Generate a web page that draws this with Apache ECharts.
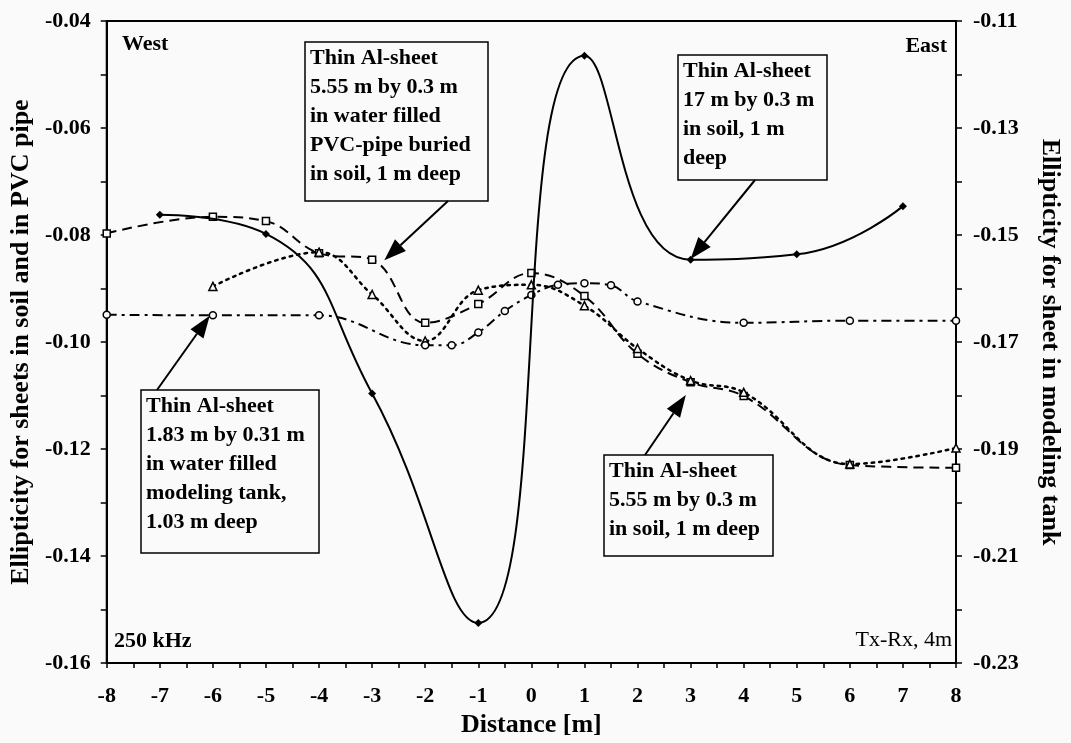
<!DOCTYPE html>
<html lang="en">
<head>
<meta charset="UTF-8">
<title>Ellipticity profiles, 250 kHz</title>
<style>
html, body { margin: 0; padding: 0; background: #fafafa; }
#container { width: 1071px; height: 743px; }
</style>
</head>
<body>
<div id="container"></div>
<script src="https://cdn.jsdelivr.net/npm/echarts@6/dist/echarts.min.js"></script>
<script>
// 17 m by 0.3 m sheet in soil (left axis) - solid, filled diamonds
var sheet17X = [-7, -5, -3, -1, 1, 3, 5, 7];
var sheet17Y = [-0.0762, -0.0798, -0.1096, -0.1525, -0.0465, -0.0846, -0.0836, -0.0746];

// 5.55 m sheet in water filled PVC pipe (left axis) - dashed, open squares
var pipeX = [-8, -6, -5, -4, -3, -2, -1, 0, 1, 2, 3, 4, 6, 8];
var pipeY = [-0.0797, -0.0766, -0.0774, -0.0834, -0.0846, -0.0964, -0.0929, -0.0871, -0.0914, -0.1022, -0.1075, -0.1101, -0.1230, -0.1235];

// 5.55 m sheet in soil (left axis) - dotted, triangles
var soilX = [-6, -4, -3, -2, -1, 0, 1, 2, 3, 4, 6, 8];
var soilY = [-0.0896, -0.0832, -0.0911, -0.0998, -0.0903, -0.0893, -0.0932, -0.1012, -0.1072, -0.1094, -0.1228, -0.1198];

// 1.83 m sheet in modeling tank (right axis) - dash-dot, open circles
var tankX = [-8, -6, -4, -2, -1.5, -1, -0.5, 0, 0.5, 1, 1.5, 2, 4, 6, 8];
var tankY = [-0.1649, -0.1650, -0.1650, -0.1706, -0.1706, -0.1682, -0.1642, -0.1612, -0.1593, -0.1590, -0.1594, -0.1624, -0.1664, -0.1660, -0.1660];

// annotation boxes, arrow tips given in left-axis data units
var noteText = [
    'Thin Al-sheet\n5.55 m by 0.3 m\nin water filled\nPVC-pipe buried\nin soil, 1 m deep',
    'Thin Al-sheet\n17 m by 0.3 m\nin soil, 1 m\ndeep',
    'Thin Al-sheet\n1.83 m by 0.31 m\nin water filled\nmodeling tank,\n1.03 m deep',
    'Thin Al-sheet\n5.55 m by 0.3 m\nin soil, 1 m deep'
];
var noteTip = [[-2.77, -0.0847], [3.0, -0.0845], [-6.06, -0.0951], [2.91, -0.1099]];

function pairs(xs, ys) {
    return xs.map(function (x, i) { return [x, ys[i]]; });
}

var font = '"Liberation Serif", "DejaVu Serif", serif';
var labelStyle = { fontFamily: font, fontWeight: 'bold', fontSize: 22, color: '#000' };
var titleStyle = { fontFamily: font, fontWeight: 'bold', fontSize: 26, color: '#000' };
var tickStyle = { color: '#000', width: 1.5 };

var myChart = echarts.init(document.getElementById('container'));

var option = {
    backgroundColor: '#fafafa',
    animation: false,
    grid: { left: 104, right: 105, top: 21, bottom: 75, show: true, borderColor: '#000', borderWidth: 2 },
    xAxis: {
        type: 'value', min: -8, max: 8, interval: 1,
        name: 'Distance [m]', nameLocation: 'middle', nameGap: 46, nameTextStyle: titleStyle,
        axisLine: { onZero: false, lineStyle: { color: '#000', width: 2 } },
        axisTick: { length: 5, lineStyle: tickStyle },
        minorTick: { show: true, splitNumber: 2, length: 5, lineStyle: tickStyle },
        splitLine: { show: false },
        axisLabel: Object.assign({ margin: 22 }, labelStyle)
    },
    yAxis: [{
        type: 'value', min: -0.16, max: -0.04, interval: 0.01,
        name: 'Ellipticity for sheets in soil and in PVC pipe', nameLocation: 'middle', nameGap: 63,
        nameTextStyle: titleStyle,
        axisLine: { show: true, onZero: false, lineStyle: { color: '#000', width: 2 } },
        axisTick: { length: 6, lineStyle: tickStyle },
        splitLine: { show: false },
        axisLabel: Object.assign({
            margin: 16,
            formatter: function (v) { var n = Math.round(v * 100); return n % 2 === 0 ? v.toFixed(2) : ''; }
        }, labelStyle)
    }, {
        type: 'value', min: -0.23, max: -0.11, interval: 0.01, position: 'right',
        name: 'Ellipticity for sheet in modeling tank', nameLocation: 'middle', nameGap: 81, nameRotate: -90,
        nameTextStyle: titleStyle,
        axisLine: { show: true, onZero: false, lineStyle: { color: '#000', width: 2 } },
        axisTick: { length: 6, lineStyle: tickStyle },
        splitLine: { show: false },
        axisLabel: Object.assign({
            margin: 17,
            formatter: function (v) { var n = Math.round(v * 100); return Math.abs(n) % 2 === 1 ? v.toFixed(2) : ''; }
        }, labelStyle)
    }],
    series: [{
        name: '17 m sheet in soil', type: 'line', data: pairs(sheet17X, sheet17Y), smooth: 0.5,
        symbol: 'diamond', symbolSize: 8, z: 5,
        lineStyle: { color: '#000', width: 2 }, itemStyle: { color: '#000' }
    }, {
        name: '5.55 m sheet in PVC pipe', type: 'line', data: pairs(pipeX, pipeY), smooth: 0.4,
        symbol: 'rect', symbolSize: 7,
        lineStyle: { color: '#000', width: 2, type: [10, 6] },
        itemStyle: { color: '#fafafa', borderColor: '#000', borderWidth: 1.5 }
    }, {
        name: '5.55 m sheet in soil', type: 'line', data: pairs(soilX, soilY), smooth: 0.4,
        symbol: 'triangle', symbolSize: 8,
        lineStyle: { color: '#000', width: 2.5, type: [2.5, 5], cap: 'round' },
        itemStyle: { color: '#fafafa', borderColor: '#000', borderWidth: 1.5 }
    }, {
        name: '1.83 m sheet in modeling tank', type: 'line', yAxisIndex: 1, data: pairs(tankX, tankY), smooth: 0.4,
        symbol: 'circle', symbolSize: 7,
        lineStyle: { color: '#000', width: 2, type: [10, 5, 3, 5] },
        itemStyle: { color: '#fafafa', borderColor: '#000', borderWidth: 1.5 }
    }]
};

myChart.setOption(option);

// text boxes and arrows
var boxes = [[305, 42, 183, 159], [678, 55, 149, 125], [141, 390, 178, 163], [604, 455, 169, 101]];
var tails = [[448, 201], [755, 180], [157, 390], [645, 455]];
var graphics = [];
noteText.forEach(function (t, i) {
    var b = boxes[i];
    graphics.push({
        type: 'rect', shape: { x: b[0], y: b[1], width: b[2], height: b[3] },
        style: { fill: '#fafafa', stroke: '#000', lineWidth: 1.5 }, z: 10
    });
    graphics.push({
        type: 'text', x: b[0] + 5, y: b[1] + 2,
        style: { text: t, font: 'bold 22px ' + font, lineHeight: 29, fill: '#000' }, z: 11
    });
    var tip = myChart.convertToPixel({ gridIndex: 0 }, noteTip[i]);
    var tail = tails[i];
    var ang = Math.atan2(tip[1] - tail[1], tip[0] - tail[0]);
    var len = 22, half = 8;
    var bx = tip[0] - len * Math.cos(ang), by = tip[1] - len * Math.sin(ang);
    graphics.push({
        type: 'line', shape: { x1: tail[0], y1: tail[1], x2: bx, y2: by },
        style: { stroke: '#000', lineWidth: 2 }, z: 10
    });
    graphics.push({
        type: 'polygon',
        shape: { points: [tip, [bx + half * Math.sin(ang), by - half * Math.cos(ang)], [bx - half * Math.sin(ang), by + half * Math.cos(ang)]] },
        style: { fill: '#000' }, z: 10
    });
});

// corner labels
graphics.push({ type: 'text', x: 122, y: 44, style: { text: 'West', font: 'bold 22px ' + font, fill: '#000', verticalAlign: 'middle' } });
graphics.push({ type: 'text', x: 947, y: 46, style: { text: 'East', font: 'bold 22px ' + font, fill: '#000', align: 'right', verticalAlign: 'middle' } });
graphics.push({ type: 'text', x: 114, y: 641, style: { text: '250 kHz', font: 'bold 22px ' + font, fill: '#000', verticalAlign: 'middle' } });
graphics.push({ type: 'text', x: 952, y: 640, style: { text: 'Tx-Rx, 4m', font: '22px ' + font, fill: '#000', align: 'right', verticalAlign: 'middle' } });

myChart.setOption({ graphic: graphics });
</script>
</body>
</html>
